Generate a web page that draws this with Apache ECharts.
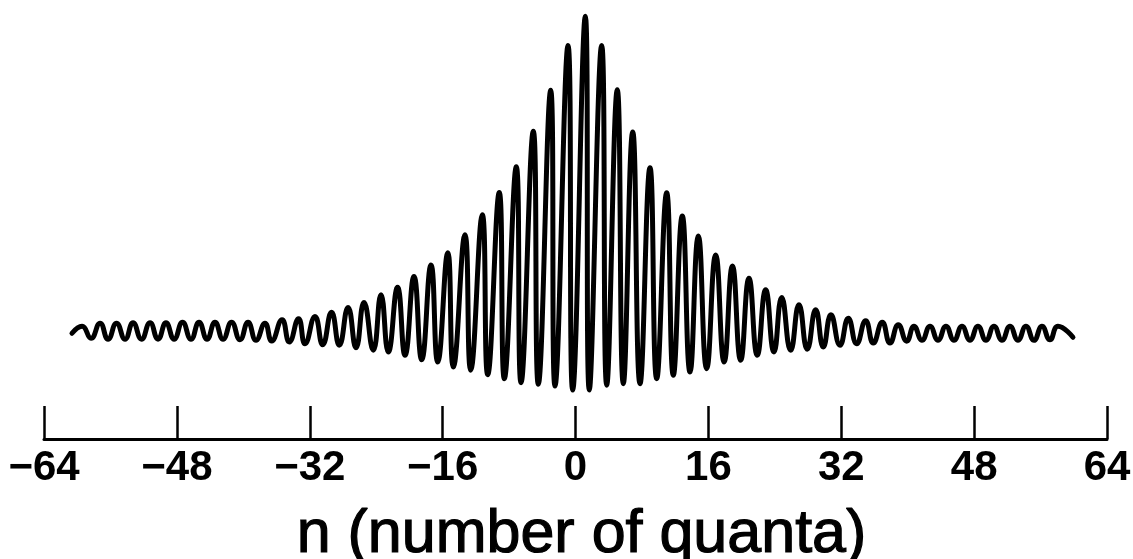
<!DOCTYPE html>
<html>
<head>
<meta charset="utf-8">
<title>n (number of quanta)</title>
<script src="https://cdn.jsdelivr.net/npm/echarts@6/dist/echarts.min.js"></script>
<style>
  html, body { margin: 0; padding: 0; background: #ffffff; }
  #chart { width: 1133px; height: 559px; }
</style>
</head>
<body>
<div id="chart"></div>
<script>
// Sample positions along the number-of-quanta axis (alternating maxima / minima of the trace)
const quantaN = [
  -60.63, -59.42, -58.34, -57.25, -56.29, -55.27, -54.24, -53.28, -52.26, -51.23,
  -50.27, -49.31, -48.34, -47.32, -46.30, -45.33, -44.37, -43.41, -42.44, -41.42,
  -40.40, -39.43, -38.47, -37.39, -36.58, -35.34, -34.46, -33.35, -32.57, -31.37,
  -30.44, -29.38, -28.44, -27.39, -26.43, -25.47, -24.35, -23.42, -22.54, -21.43,
  -20.53, -19.45, -18.52, -17.40, -16.59, -15.38, -14.71, -13.31, -12.62, -11.22,
  -10.57, -9.18, -8.57, -7.13, -6.56, -5.08, -4.48, -2.99, -2.47, -0.90,
  -0.34, 1.18, 1.66, 3.15, 3.76, 5.03, 5.76, 6.89, 7.77, 8.97,
  9.78, 10.98, 11.78, 12.86, 13.79, 14.79, 15.80, 16.88, 17.90, 18.90,
  19.89, 20.89, 21.89, 22.90, 23.90, 24.83, 25.91, 26.91, 27.91, 28.92,
  29.84, 30.76, 31.85, 32.85, 33.86, 34.94, 35.86, 36.94, 37.87, 38.87,
  39.88, 40.76, 41.72, 42.69, 43.65, 44.61, 45.57, 46.54, 47.50, 48.46,
  49.43, 50.39, 51.35, 52.32, 53.28, 54.24, 55.21, 56.17, 57.13, 58.10,
  59.90
];

// Trace height (arbitrary units) at each sample position
const signal = [
  106, 113, 101, 116, 100, 116, 100, 116.5, 100, 116.5,
  100, 116.5, 100, 117, 100, 117, 100, 117, 100, 117,
  99.5, 117, 99, 116, 98.2, 119.5, 97.2, 120.5, 95.5, 122.8,
  94.5, 127, 94, 131.8, 91.5, 136.8, 89, 144.5, 87.2, 152,
  84, 162.8, 79.5, 174.5, 77.2, 186.8, 72.2, 204.8, 69, 224.8,
  64.5, 247, 60.5, 272.8, 56.5, 308.5, 55, 349.5, 53, 394.5,
  49, 423.8, 49, 394.5, 54, 350, 55.5, 307.8, 55.5, 272,
  60.5, 246.8, 64, 223.5, 67.2, 203.5, 70.5, 184.5, 77.2, 173.5,
  79, 161, 84, 149.5, 87.2, 141.8, 89, 134.5, 90, 129.5,
  92.2, 124.5, 94, 121, 95.5, 118.5, 96.2, 117, 96.2, 114.5,
  98, 113, 99, 113, 99, 113, 99, 113, 99, 113,
  99, 113, 99, 113, 99, 113, 99, 113, 99.5, 113,
  102
];

// Axis ticks
const tickMin = -64;
const tickMax = 64;
const tickStep = 16;

const axisName = 'n (number of quanta)';

const points = quantaN.map((n, i) => [n, signal[i]]);

const chart = echarts.init(document.getElementById('chart'), null, { renderer: 'canvas' });

chart.setOption({
  backgroundColor: '#ffffff',
  animation: false,
  grid: { left: 44, right: 26, top: 10, bottom: 120, outerBoundsMode: 'none', containLabel: false },
  xAxis: {
    type: 'value',
    min: tickMin,
    max: tickMax,
    interval: tickStep,
    splitLine: { show: false },
    axisLine: { show: true, onZero: false, lineStyle: { color: '#000', width: 3 } },
    axisTick: { show: true, inside: true, length: 33, lineStyle: { color: '#000', width: 2.5 } },
    axisLabel: {
      show: true,
      margin: 8,
      color: '#000',
      fontFamily: 'Liberation Sans, Arial, sans-serif',
      fontWeight: 'bold',
      fontSize: 42,
      showMinLabel: true,
      showMaxLabel: true,
      hideOverlap: false,
      formatter: v => (v < 0 ? '\u2212' + Math.abs(v) : String(v))
    },
    name: axisName,
    nameLocation: 'middle',
    nameGap: 66,
    nameTextStyle: {
      color: '#000',
      fontFamily: 'Liberation Sans, Arial, sans-serif',
      fontSize: 61,
      fontWeight: 'normal',
      textBorderColor: '#000',
      textBorderWidth: 1.2,
      padding: [0, 0, 0, 12]
    }
  },
  yAxis: {
    type: 'value',
    min: 0,
    max: 430,
    show: false
  },
  series: [{
    type: 'line',
    data: points,
    smooth: true,
    symbol: 'none',
    lineStyle: { color: '#000', width: 5, join: 'round', cap: 'round' }
  }]
});
</script>
</body>
</html>
